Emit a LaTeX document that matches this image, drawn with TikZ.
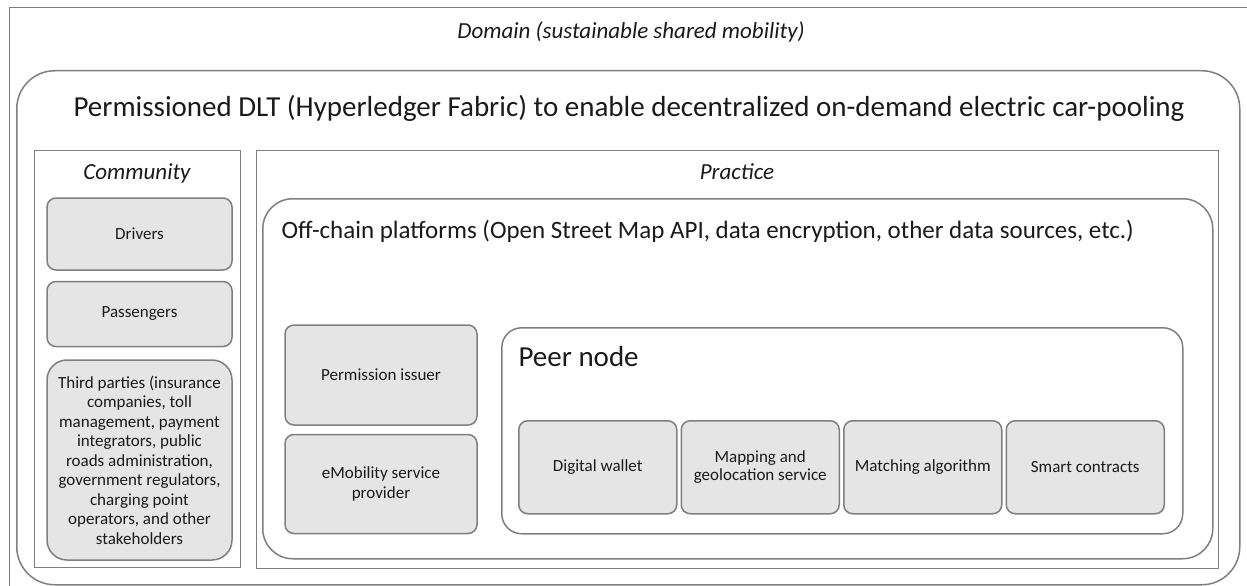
\documentclass[tikz,border=0pt]{standalone}
\usepackage{fontspec}
\setmainfont{Carlito}
\usetikzlibrary{positioning}
\definecolor{edgegray}{HTML}{7F7F7F}
\definecolor{boxgray}{HTML}{E5E5E5}
\definecolor{inkgray}{HTML}{1A1A1A}

\begin{document}
\begin{tikzpicture}
  [x=1pt, y=-1pt, node distance=3pt, text=inkgray,
   frame/.style={draw=edgegray, line width=0.9pt, anchor=north west, inner sep=0pt},
   layer/.style={draw=edgegray, line width=1.5pt, rounded corners=#1, anchor=north west, inner sep=0pt},
   block/.style={draw=edgegray, line width=1.5pt, fill=boxgray, rounded corners=9pt,
                 align=center, inner sep=2pt, font=\fontsize{17}{19.5}\selectfont},
   side/.style={block, minimum width=185pt},
   offer/.style={block, minimum width=192pt},
   part/.style={block, minimum width=158pt, minimum height=93pt},
   heading/.style={font=\itshape\fontsize{23}{27}\selectfont},
   banner/.style={font=\fontsize{#1}{#1}\selectfont}]
   \useasboundingbox (0,0) rectangle (1247,586);
   \clip (0,0) rectangle (1247,586);

   \node[frame, minimum width=1300pt, minimum height=650pt] (domain) at (9,7) {};
   \node[heading] (domain_t) at (631,32) {Domain (sustainable shared mobility)};

   \node[layer=38pt, minimum width=1223pt, minimum height=514pt] (dlt) at (16,70) {};
   \node[banner=29] (dlt_t) at (629,108)
     {Permissioned DLT (Hyperledger Fabric) to enable decentralized on-demand electric car-pooling};

   \node[frame, minimum width=206pt, minimum height=417pt] (community) at (34,150) {};
   \node[heading] (community_t) at (137,173) {Community};
   \node[side, minimum height=72pt] (drivers) at (139.5,234) {Drivers};
   \node[side, minimum height=65pt] (passengers) [below=10pt of drivers] {Passengers};
   \node[side, minimum height=200pt, rounded corners=20pt] (third) [below=12pt of passengers]
     {Third parties (insurance\\companies, toll\\management, payment\\integrators, public\\
      roads administration,\\government regulators,\\charging point\\operators, and other\\stakeholders};

   \node[frame, minimum width=962pt, minimum height=418pt] (practice) at (256,150) {};
   \node[heading] (practice_t) at (737,172) {Practice};

   \node[layer=30pt, minimum width=950pt, minimum height=360pt] (offchain) at (262,198) {};
   \node[banner=25, anchor=west] (offchain_t) at (278,231)
     {Off-chain platforms (Open Street Map API, data encryption, other data sources, etc.)};
   \node[offer, minimum height=100pt] (issuer) at (381,375) {Permission issuer};
   \node[offer, minimum height=99pt] (emsp) [below=8pt of issuer] {eMobility service\\provider};

   \node[layer=20pt, minimum width=681pt, minimum height=206pt] (peer) at (501,327) {};
   \node[banner=29, anchor=west] (peer_t) at (515,357) {Peer node};
   \node[part, anchor=north west] (wallet) at (518,420) {Digital wallet};
   \node[part, font=\fontsize{17}{18.5}\selectfont] (mapping) [right=of wallet] {Mapping and\\geolocation service};
   \node[part] (matching) [right=of mapping] {Matching algorithm};
   \node[part] (contracts) [right=of matching] {Smart contracts};
\end{tikzpicture}
\end{document}
